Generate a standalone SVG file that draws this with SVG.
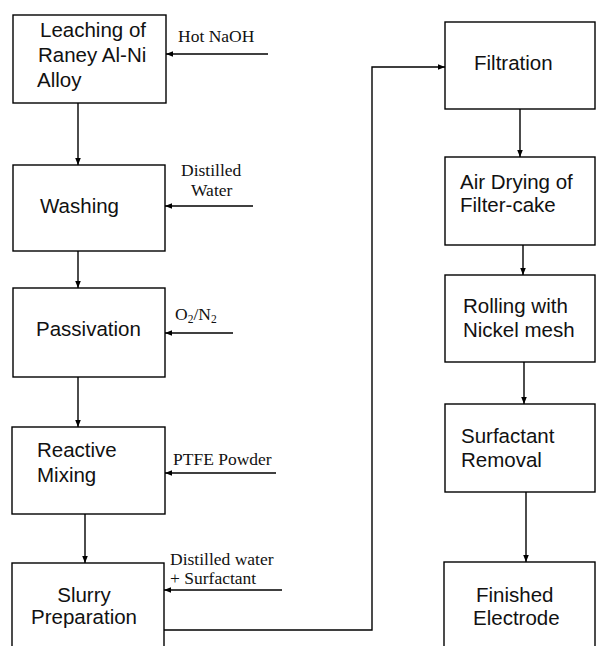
<svg xmlns="http://www.w3.org/2000/svg" width="596" height="646" viewBox="0 0 596 646">
<defs>
<style>
.box{fill:#fff;stroke:#000;stroke-width:1.4}
.lbl{font-family:"Liberation Sans",Arial,sans-serif;font-size:20.5px;fill:#111}
.in{font-family:"Liberation Serif","Times New Roman",serif;font-size:17.5px;fill:#111}
.con{fill:none;stroke:#000;stroke-width:1.4}
</style>
<marker id="ah" viewBox="0 0 10 10" refX="10" refY="5" markerWidth="7" markerHeight="7" markerUnits="userSpaceOnUse" orient="auto">
<path d="M0,1 L10,5 L0,9 Z" fill="#000"/>
</marker>
</defs>
<rect width="596" height="646" fill="#fff"/>
<g id="connectors">
<line class="con" x1="78" y1="103" x2="78" y2="165" marker-end="url(#ah)"/>
<line class="con" x1="78" y1="251" x2="78" y2="288" marker-end="url(#ah)"/>
<line class="con" x1="78" y1="377" x2="78" y2="427" marker-end="url(#ah)"/>
<line class="con" x1="85" y1="514" x2="85" y2="563" marker-end="url(#ah)"/>
<polyline class="con" points="164,630 372,630 372,67 445,67" marker-end="url(#ah)"/>
<line class="con" x1="520" y1="109" x2="520" y2="157" marker-end="url(#ah)"/>
<line class="con" x1="523" y1="245" x2="523" y2="275" marker-end="url(#ah)"/>
<line class="con" x1="524" y1="362" x2="524" y2="404" marker-end="url(#ah)"/>
<line class="con" x1="526" y1="492" x2="526" y2="562" marker-end="url(#ah)"/>
<line class="con" x1="268" y1="54" x2="166" y2="54" marker-end="url(#ah)"/>
<line class="con" x1="253" y1="206" x2="165" y2="206" marker-end="url(#ah)"/>
<line class="con" x1="233" y1="333" x2="165" y2="333" marker-end="url(#ah)"/>
<line class="con" x1="276" y1="473" x2="165" y2="473" marker-end="url(#ah)"/>
<line class="con" x1="282" y1="590" x2="164" y2="590" marker-end="url(#ah)"/>
</g>
<g id="inputs">
<text class="in" x="178" y="42">Hot NaOH</text>
<text class="in" x="181" y="176">Distilled</text>
<text class="in" x="191" y="196">Water</text>
<text class="in" x="175" y="320">O<tspan font-size="11.5" dy="3">2</tspan><tspan dy="-3">/N</tspan><tspan font-size="11.5" dy="3">2</tspan></text>
<text class="in" x="173" y="465">PTFE Powder</text>
<text class="in" x="170" y="565">Distilled water</text>
<text class="in" x="170" y="584">+ Surfactant</text>
</g>
<g id="leaching">
<rect class="box" x="13" y="15" width="153" height="88"/>
<text class="lbl" x="40" y="37">Leaching of</text>
<text class="lbl" x="38" y="62">Raney Al-Ni</text>
<text class="lbl" x="37" y="87">Alloy</text>
</g>
<g id="washing">
<rect class="box" x="13" y="165" width="152" height="86"/>
<text class="lbl" x="40" y="213">Washing</text>
</g>
<g id="passivation">
<rect class="box" x="13" y="288" width="152" height="89"/>
<text class="lbl" x="36" y="336">Passivation</text>
</g>
<g id="reactive">
<rect class="box" x="12" y="427" width="153" height="87"/>
<text class="lbl" x="37" y="457">Reactive</text>
<text class="lbl" x="37" y="482">Mixing</text>
</g>
<g id="slurry">
<rect class="box" x="12" y="563" width="152" height="100"/>
<text class="lbl" x="84" y="602" text-anchor="middle">Slurry</text>
<text class="lbl" x="84" y="624" text-anchor="middle">Preparation</text>
</g>
<g id="filtration">
<rect class="box" x="445" y="22" width="150" height="87"/>
<text class="lbl" x="474" y="70">Filtration</text>
</g>
<g id="airdrying">
<rect class="box" x="445" y="157" width="150" height="88"/>
<text class="lbl" x="460" y="189">Air Drying of</text>
<text class="lbl" x="460" y="212">Filter-cake</text>
</g>
<g id="rolling">
<rect class="box" x="445" y="275" width="150" height="87"/>
<text class="lbl" x="463" y="313">Rolling with</text>
<text class="lbl" x="463" y="337">Nickel mesh</text>
</g>
<g id="surfactant">
<rect class="box" x="445" y="404" width="150" height="88"/>
<text class="lbl" x="461" y="443">Surfactant</text>
<text class="lbl" x="461" y="467">Removal</text>
</g>
<g id="finished">
<rect class="box" x="444" y="562" width="151" height="100"/>
<text class="lbl" x="476" y="602">Finished</text>
<text class="lbl" x="473" y="625">Electrode</text>
</g>
</svg>
